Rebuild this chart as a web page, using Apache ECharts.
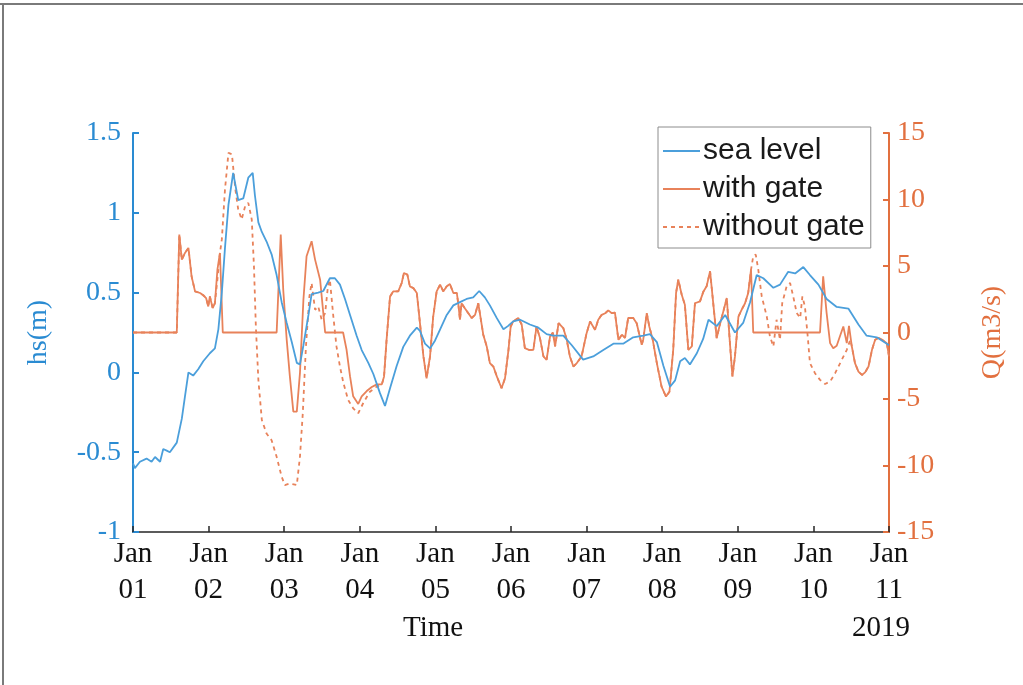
<!DOCTYPE html>
<html>
<head>
<meta charset="utf-8">
<script src="https://cdn.jsdelivr.net/npm/echarts@6/dist/echarts.min.js"></script>
<style>
  html, body { margin: 0; padding: 0; background: #fff; }
  #chart { width: 1023px; height: 685px; }
</style>
</head>
<body>
<div id="chart"></div>
<script>
// Hours since 2019-01-01 00:00 and the matching values.
const dayLabels = ['01', '02', '03', '04', '05', '06', '07', '08', '09', '10', '11'];
const leftTicks = [-1, -0.5, 0, 0.5, 1, 1.5];
const rightTicks = [-15, -10, -5, 0, 5, 10, 15];

// sea level hs (m)
const seaHours = [0, 0.6, 2.2, 4.3, 5.9, 7.0, 8.6, 9.6, 10.7, 11.7, 13.9, 15.5, 16.5, 17.6, 19.1, 20.7, 22.3, 24.4, 26.0, 27.1, 28.2, 29.2, 30.3, 31.8, 33.4, 35.0, 36.6, 38.0, 38.7, 39.8, 40.9, 42.4, 44.0, 45.6, 47.2, 48.8, 50.4, 52.0, 53.0, 54.1, 55.7, 56.7, 58.8, 60.4, 62.5, 64.1, 65.7, 67.3, 68.9, 71.0, 72.6, 74.7, 76.3, 78.4, 80.0, 81.6, 83.7, 85.8, 87.9, 90.1, 91.1, 92.7, 94.3, 95.9, 97.5, 99.6, 101.7, 103.8, 105.9, 108.0, 109.9, 111.7, 113.3, 115.5, 117.6, 119.0, 120.7, 122.9, 126.0, 128.7, 131.3, 133.4, 136.6, 139.3, 142.9, 146.1, 149.3, 152.5, 155.6, 158.8, 162.0, 164.1, 166.3, 168.4, 170.5, 172.1, 173.7, 175.2, 176.8, 179.0, 181.0, 182.7, 185.3, 188.0, 191.1, 193.7, 195.9, 198.0, 200.1, 203.3, 205.4, 208.0, 210.2, 212.8, 214.9, 217.6, 220.2, 223.4, 227.1, 230.3, 232.9, 236.1, 239.3, 240];
const seaLevel = [-0.57, -0.60, -0.56, -0.54, -0.56, -0.53, -0.56, -0.48, -0.49, -0.50, -0.44, -0.29, -0.15, 0.0, -0.02, 0.02, 0.07, 0.12, 0.15, 0.27, 0.50, 0.78, 1.05, 1.25, 1.08, 1.09, 1.22, 1.25, 1.11, 0.94, 0.88, 0.82, 0.74, 0.61, 0.44, 0.31, 0.19, 0.06, 0.05, 0.17, 0.36, 0.49, 0.50, 0.51, 0.59, 0.59, 0.55, 0.46, 0.36, 0.23, 0.14, 0.06, -0.01, -0.13, -0.21, -0.10, 0.04, 0.16, 0.23, 0.28, 0.26, 0.18, 0.15, 0.20, 0.27, 0.36, 0.42, 0.44, 0.46, 0.47, 0.51, 0.47, 0.42, 0.34, 0.27, 0.29, 0.32, 0.33, 0.30, 0.28, 0.24, 0.23, 0.23, 0.17, 0.08, 0.10, 0.14, 0.18, 0.18, 0.22, 0.23, 0.24, 0.19, 0.04, -0.09, -0.05, 0.07, 0.09, 0.05, 0.12, 0.21, 0.33, 0.29, 0.36, 0.25, 0.31, 0.44, 0.61, 0.59, 0.53, 0.55, 0.63, 0.62, 0.66, 0.61, 0.55, 0.46, 0.41, 0.40, 0.30, 0.23, 0.22, 0.18, 0.17];

// discharge Q (m3/s) with the gate operating
const gateHours = [0, 13.9, 14.7, 15.5, 16.5, 17.6, 18.6, 19.7, 21.3, 22.3, 23.2, 23.9, 24.4, 25.3, 26.0, 26.8, 27.6, 28.5, 45.6, 46.9, 47.7, 48.8, 49.8, 50.9, 52.0, 53.0, 54.1, 55.1, 56.7, 57.8, 59.4, 61.0, 66.7, 67.8, 68.9, 69.9, 71.5, 72.6, 74.2, 75.8, 77.4, 79.0, 79.7, 80.5, 81.6, 82.6, 84.2, 85.3, 86.0, 87.1, 87.9, 89.0, 90.1, 91.1, 92.2, 93.2, 94.3, 95.3, 96.4, 97.5, 98.5, 99.6, 100.6, 101.7, 102.8, 103.3, 103.8, 104.3, 105.4, 106.4, 107.5, 108.6, 109.6, 110.2, 111.2, 112.3, 113.3, 114.4, 115.5, 117.0, 118.1, 119.2, 119.9, 120.7, 122.3, 123.4, 124.4, 125.7, 127.1, 128.1, 129.2, 130.3, 131.3, 132.4, 133.3, 134.0, 135.1, 136.6, 137.7, 138.7, 139.8, 140.9, 142.4, 144.0, 145.1, 146.7, 147.7, 148.8, 149.9, 150.9, 152.0, 153.0, 154.1, 155.2, 156.2, 157.2, 158.8, 159.9, 161.5, 162.0, 163.1, 163.9, 165.0, 166.3, 167.8, 169.2, 170.3, 171.5, 172.4, 173.1, 174.2, 175.2, 176.3, 177.4, 178.4, 180.0, 181.1, 182.1, 183.2, 184.3, 185.3, 186.4, 187.4, 188.5, 189.5, 190.3, 191.1, 192.2, 193.2, 194.3, 195.3, 196.2, 196.9, 218.1, 219.1, 220.2, 221.3, 222.3, 223.4, 224.4, 225.5, 226.6, 227.3, 228.2, 229.2, 230.3, 231.4, 232.4, 233.5, 234.6, 235.6, 236.7, 237.8, 239.3, 240];
const withGate = [0, 0, 7.36, 5.48, 5.98, 6.36, 4.22, 3.09, 2.97, 2.8, 2.59, 1.96, 2.71, 1.83, 2.2, 4.72, 5.98, 0, 0, 7.36, 3.2, -0.55, -3.3, -5.95, -5.95, -3.06, 2.46, 5.73, 6.86, 5.48, 3.97, 0, 0, -1.3, -3.3, -4.8, -5.37, -4.8, -4.4, -4.1, -3.9, -3.9, -3.3, -0.55, 2.71, 3.09, 3.09, 3.72, 4.47, 4.35, 3.47, 3.34, 2.97, 0.7, -1.8, -3.44, -1.8, 1.2, 3.09, 3.6, 3.09, 3.47, 3.65, 2.97, 2.97, 2.09, 0.96, 2.2, 1.8, 1.46, 1.09, 1.33, 2.2, 1.33, -0.17, -1.05, -2.3, -2.56, -3.3, -4.19, -3.44, -1.3, 0.45, 0.83, 1.09, 0.6, -1.18, -1.3, -1.3, 0.45, -0.42, -1.8, -2.06, -0.3, 0.0, -1.05, 0.7, 0.33, -0.55, -1.8, -2.56, -2.3, -1.8, -0.05, 0.83, 0.2, 0.96, 1.33, 1.45, 1.66, 1.45, 1.5, -0.55, -0.17, -0.4, 1.09, 1.09, 0.7, -0.93, -0.5, 1.46, 0.45, -0.55, -2.3, -4.07, -4.82, -4.45, -1.3, 2.97, 3.97, 2.84, 2.09, -1.3, -1.05, 2.2, 2.34, 3.09, 3.47, 4.6, 1.96, -0.42, 0.7, 1.58, 2.59, -0.8, -3.3, -1.8, 1.2, 1.7, 2.2, 2.97, 4.72, 0, 0, 4.22, 1.46, -0.8, -1.18, -1.0, -0.3, 0.45, -0.8, 0.5, -1.05, -2.3, -2.94, -3.19, -3.0, -2.56, -1.3, -0.55, -0.4, -0.55, -0.8, -1.8];

// discharge Q (m3/s) without the gate
const noGateHours = [0, 13.9, 14.7, 15.5, 16.5, 17.6, 18.6, 19.7, 21.3, 22.3, 23.2, 23.9, 24.4, 25.3, 26.0, 26.8, 27.6, 28.2, 29.2, 30.3, 31.4, 32.5, 33.4, 34.5, 35.6, 36.6, 37.7, 38.4, 39.0, 39.8, 40.9, 42.4, 44.0, 45.6, 47.2, 48.2, 49.8, 52.0, 53.0, 53.9, 54.9, 56.0, 56.7, 57.8, 58.8, 59.9, 61.0, 61.9, 62.5, 63.6, 64.6, 65.7, 66.8, 68.3, 69.9, 71.5, 73.1, 75.2, 77.4, 79.0, 79.7, 80.5, 81.6, 82.6, 84.2, 85.3, 86.0, 87.1, 87.9, 89.0, 90.1, 91.1, 92.2, 93.2, 94.3, 95.3, 96.4, 97.5, 98.5, 99.6, 100.6, 101.7, 102.8, 103.3, 103.8, 104.3, 105.4, 106.4, 107.5, 108.6, 109.6, 110.2, 111.2, 112.3, 113.3, 114.4, 115.5, 117.0, 118.1, 119.2, 119.9, 120.7, 122.3, 123.4, 124.4, 125.7, 127.1, 128.1, 129.2, 130.3, 131.3, 132.4, 133.3, 134.0, 135.1, 136.6, 137.7, 138.7, 139.8, 140.9, 142.4, 144.0, 145.1, 146.7, 147.7, 148.8, 149.9, 150.9, 152.0, 153.0, 154.1, 155.2, 156.2, 157.2, 158.8, 159.9, 161.5, 162.0, 163.1, 163.9, 165.0, 166.3, 167.8, 169.2, 170.3, 171.5, 172.4, 173.1, 174.2, 175.2, 176.3, 177.4, 178.4, 180.0, 181.1, 182.1, 183.2, 184.3, 185.3, 186.4, 187.4, 188.5, 189.5, 190.3, 191.1, 192.2, 193.2, 194.3, 195.3, 196.2, 196.9, 197.7, 198.5, 199.6, 201.2, 202.2, 203.3, 204.3, 205.4, 206.1, 207.5, 208.6, 209.6, 210.7, 211.8, 212.5, 213.3, 214.2, 214.9, 216.5, 218.1, 219.7, 221.3, 222.9, 225.0, 226.6, 227.7, 228.2, 229.2, 230.3, 231.4, 232.4, 233.5, 234.6, 235.6, 236.7, 237.8, 239.3, 240];
const withoutGate = [0, 0, 7.36, 5.48, 5.98, 6.36, 4.22, 3.09, 2.97, 2.8, 2.59, 1.96, 2.71, 1.83, 2.2, 4.0, 5.98, 7.0, 10.75, 13.5, 13.4, 10.75, 9.25, 8.5, 9.5, 9.75, 8.5, 4.97, 0.45, -3.56, -6.58, -7.6, -8.1, -9.35, -10.85, -11.47, -11.35, -11.47, -9.35, -6.07, -1.05, 2.71, 3.72, 1.71, 1.96, 0.96, 1.46, 3.5, 3.97, 1.2, -1.05, -2.56, -3.8, -5.07, -5.7, -6.07, -5.3, -4.45, -4.07, -3.9, -3.3, -0.55, 2.71, 3.09, 3.09, 3.72, 4.47, 4.35, 3.47, 3.34, 2.97, 0.7, -1.8, -3.44, -1.8, 1.2, 3.09, 3.6, 3.09, 3.47, 3.65, 2.97, 2.97, 2.09, 0.96, 2.2, 1.8, 1.46, 1.09, 1.33, 2.2, 1.33, -0.17, -1.05, -2.3, -2.56, -3.3, -4.19, -3.44, -1.3, 0.45, 0.83, 1.09, 0.6, -1.18, -1.3, -1.3, 0.45, -0.42, -1.8, -2.06, -0.3, 0.0, -1.05, 0.7, 0.33, -0.55, -1.8, -2.56, -2.3, -1.8, -0.05, 0.83, 0.2, 0.96, 1.33, 1.45, 1.66, 1.45, 1.5, -0.55, -0.17, -0.4, 1.09, 1.09, 0.7, -0.93, -0.5, 1.46, 0.45, -0.55, -2.3, -4.07, -4.82, -4.45, -1.3, 2.97, 3.97, 2.84, 2.09, -1.3, -1.05, 2.2, 2.34, 3.09, 3.47, 4.6, 1.96, -0.42, 0.7, 1.58, 2.59, -0.8, -3.3, -1.8, 1.2, 1.7, 2.2, 2.97, 4.72, 5.73, 5.86, 4.72, 2.71, 1.2, -0.3, -1.05, 0.96, -0.55, 2.2, 3.47, 3.72, 2.71, 1.46, 1.09, 2.71, 1.96, -0.3, -2.3, -3.06, -3.56, -3.87, -3.69, -3.06, -2.06, -1.3, -0.55, -1.05, -2.3, -2.94, -3.19, -3.0, -2.56, -1.3, -0.55, -0.4, -0.55, -0.8, -1.8];

const BLUE_LINE = '#4b9fdb';
const BLUE_AXIS = '#2a8bd2';
const ORANGE_LINE = '#e8825a';
const ORANGE_AXIS = '#e2703f';
const SERIF = '"Liberation Serif", "Times New Roman", serif';
const SANS = '"Liberation Sans", Arial, sans-serif';

const pairs = (xs, ys) => xs.map((x, i) => [x, ys[i]]);

const chart = echarts.init(document.getElementById('chart'), null, { renderer: 'canvas' });

chart.setOption({
  animation: false,
  backgroundColor: '#ffffff',
  grid: { left: 133, right: 134, top: 133, bottom: 153, containLabel: false },
  legend: {
    orient: 'vertical',
    left: 658,
    top: 127,
    backgroundColor: '#ffffff',
    borderColor: '#8c8c8c',
    borderWidth: 1,
    borderRadius: 0,
    padding: [9, 6, 6, 4],
    itemGap: 8,
    itemWidth: 37,
    itemHeight: 14,
    itemStyle: { opacity: 0 },
    textStyle: { fontFamily: SANS, fontSize: 30, color: '#1a1a1a', padding: [0, 0, 0, -2] },
    data: ['sea level', 'with gate', 'without gate']
  },
  xAxis: {
    type: 'value',
    min: 0,
    max: 240,
    interval: 24,
    axisLine: { show: true, onZero: false, lineStyle: { color: '#262626', width: 1.5 } },
    axisTick: { show: true, inside: true, length: 6, lineStyle: { color: '#262626', width: 1.5 } },
    splitLine: { show: false },
    axisLabel: {
      margin: 4,
      fontFamily: SERIF,
      fontSize: 29,
      lineHeight: 36,
      color: '#111',
      formatter: v => 'Jan\n' + dayLabels[Math.round(v / 24)]
    }
  },
  yAxis: [
    {
      type: 'value',
      position: 'left',
      min: leftTicks[0],
      max: leftTicks[leftTicks.length - 1],
      interval: 0.5,
      name: 'hs(m)',
      nameLocation: 'middle',
      nameGap: 80,
      nameRotate: 90,
      nameTextStyle: { fontFamily: SERIF, fontSize: 28, color: BLUE_AXIS },
      axisLine: { show: true, onZero: false, lineStyle: { color: BLUE_AXIS, width: 2 } },
      axisTick: { show: true, inside: true, length: 6, lineStyle: { color: BLUE_AXIS, width: 2 } },
      splitLine: { show: false },
      axisLabel: { margin: 12, fontFamily: SERIF, fontSize: 28, color: BLUE_AXIS }
    },
    {
      type: 'value',
      position: 'right',
      min: rightTicks[0],
      max: rightTicks[rightTicks.length - 1],
      interval: 5,
      name: 'Q(m3/s)',
      nameLocation: 'middle',
      nameGap: 90,
      nameRotate: 90,
      nameTextStyle: { fontFamily: SERIF, fontSize: 28, color: ORANGE_AXIS },
      axisLine: { show: true, onZero: false, lineStyle: { color: ORANGE_AXIS, width: 2 } },
      axisTick: { show: true, inside: true, length: 6, lineStyle: { color: ORANGE_AXIS, width: 2 } },
      splitLine: { show: false },
      axisLabel: { margin: 8, fontFamily: SERIF, fontSize: 28, color: ORANGE_AXIS }
    }
  ],
  series: [
    {
      name: 'sea level',
      type: 'line',
      yAxisIndex: 0,
      showSymbol: false,
      symbol: 'none',
      z: 4,
      lineStyle: { color: BLUE_LINE, width: 1.8 },
      itemStyle: { color: BLUE_LINE },
      data: pairs(seaHours, seaLevel)
    },
    {
      name: 'with gate',
      type: 'line',
      yAxisIndex: 1,
      showSymbol: false,
      symbol: 'none',
      z: 3,
      lineStyle: { color: ORANGE_LINE, width: 1.8 },
      itemStyle: { color: ORANGE_LINE },
      data: pairs(gateHours, withGate)
    },
    {
      name: 'without gate',
      type: 'line',
      yAxisIndex: 1,
      showSymbol: false,
      symbol: 'none',
      z: 2,
      lineStyle: { color: ORANGE_LINE, width: 1.8, type: [4, 4] },
      itemStyle: { color: ORANGE_LINE },
      data: pairs(noGateHours, withoutGate)
    }
  ],
  graphic: [
    { type: 'line', shape: { x1: 0, y1: 4, x2: 1023, y2: 4 }, style: { stroke: '#7a7a7a', lineWidth: 2 } },
    { type: 'line', shape: { x1: 3, y1: 4, x2: 3, y2: 685 }, style: { stroke: '#7a7a7a', lineWidth: 2 } },
    { type: 'text', left: 403, top: 614, style: { text: 'Time', font: '29px ' + SERIF, fill: '#111' } },
    { type: 'text', right: 113, top: 614, style: { text: '2019', font: '29px ' + SERIF, fill: '#111' } }
  ]
});
</script>
</body>
</html>
